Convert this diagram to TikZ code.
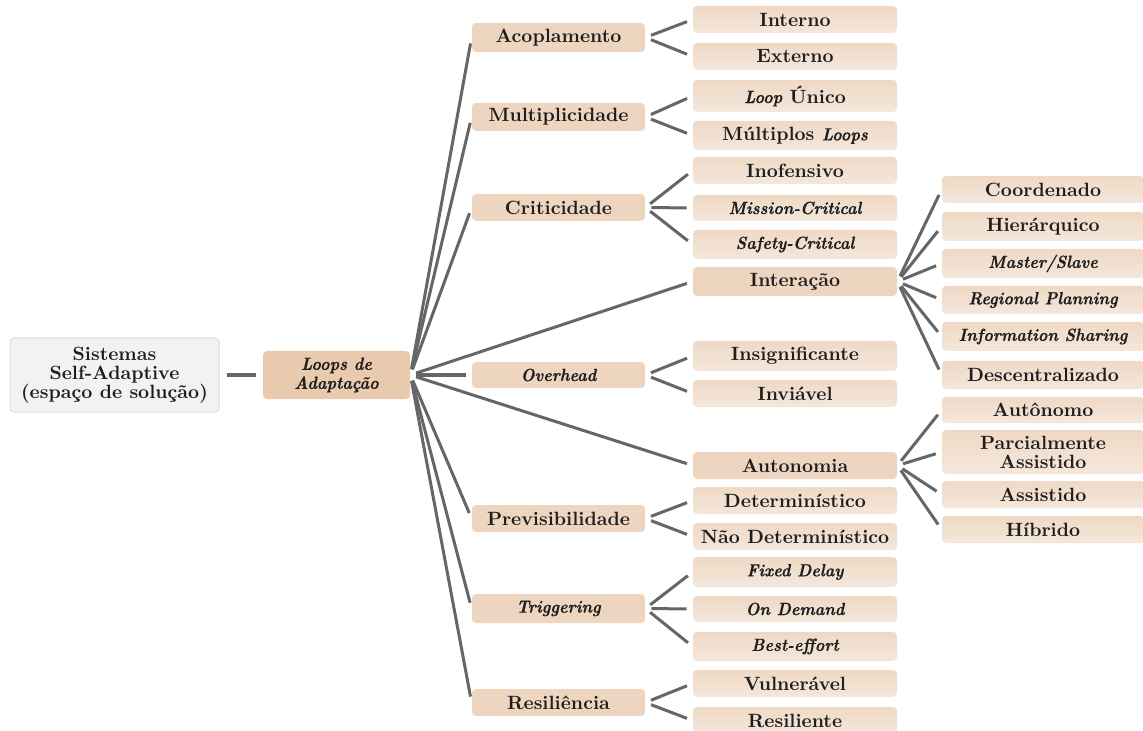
\documentclass[tikz,border=0pt]{standalone}
\usepackage{fontspec}
% narrow bold italic face for the foreign terms
\newfontface\narrowbi{lmroman10-bolditalic}[Extension=.otf, FakeStretch=0.92, FakeBold=0.4]
\definecolor{edgec}{HTML}{666666}
\definecolor{txt}{HTML}{1E1E1E}
\definecolor{rootfill}{HTML}{F1F2F1}
\definecolor{rootline}{HTML}{DCDDDC}
\definecolor{loopfill}{HTML}{E9CAAE}
\definecolor{catfill}{HTML}{EED5BF}
\definecolor{leaftop}{HTML}{EFD9C5}
\definecolor{leafbot}{HTML}{F4E7DB}
\newcommand\ital[1]{{\fontsize{8.8}{9.5}\narrowbi #1}}
\begin{document}
\begin{tikzpicture}[x=0.5pt,y=-0.5pt,
  base/.style={rounded corners=2pt, align=center, inner sep=0pt, text=txt,
    font=\fontsize{9.6}{9.5}\selectfont\bfseries},
  rootbox/.style={base, fill=rootfill, draw=rootline, line width=0.5pt,
    minimum width=104.5pt, minimum height=37pt},
  loopbox/.style={base, fill=loopfill, minimum width=73.5pt, minimum height=24pt},
  catbox/.style={base, fill=catfill, minimum width=86.5pt, minimum height=#1},
  catbox/.default=13.5pt,
  midbox/.style={base, fill=catfill, minimum width=102pt, minimum height=#1},
  midbox/.default=14pt,
  leafbox/.style={base, top color=leaftop, bottom color=leafbot,
    minimum width=102pt, minimum height=#1},
  leafbox/.default=13.5pt,
  farbox/.style={base, top color=leaftop, bottom color=leafbot,
    minimum width=101pt, minimum height=#1},
  farbox/.default=14pt,
  link/.style={draw=edgec, line width=1.5pt, shorten <=3pt, shorten >=3pt}
]
\useasboundingbox (0,0) rectangle (1143,731);
\clip (0,0) rectangle (1143,731);

% root and main hub
\node[rootbox] (root) at (114.5,375) {Sistemas\\Self-Adaptive\\(espaço de solução)};
\node[loopbox] (loops) at (336.5,375) {\ital{Loops de}\\\ital{Adaptação}};
\draw[link, shorten <=3.5pt, shorten >=3.5pt] (root.east) -- (loops.west);

% dimensions
\node[catbox=14.5pt] (acop) at (558.5,37.5) {Acoplamento};
\node[catbox=14pt] (mult) at (558.5,117) {Multiplicidade};
\node[catbox] (crit) at (558.5,207.5) {Criticidade};
\node[midbox=14.5pt] (inter) at (795,281.5) {Interação};
\node[catbox=13pt] (over) at (558.5,375) {\ital{Overhead}};
\node[midbox=13.5pt] (auto) at (795,465.5) {Autonomia};
\node[catbox] (prev) at (558.5,518.5) {Previsibilidade};
\node[catbox=14.5pt] (trig) at (558.5,608.5) {\ital{Triggering}};
\node[catbox] (resi) at (558.5,702.5) {Resiliência};

\foreach \c in {acop,mult,crit,inter,over,auto,prev,trig,resi}
  \draw[link] (loops.east) -- (\c.west);

% values of each dimension
\node[leafbox] (interno) at (795,19.5) {Interno};
\node[leafbox] (externo) at (795,56.5) {Externo};
\node[leafbox=16pt] (unico) at (795,96) {\ital{Loop} Único};
\node[leafbox=14.5pt] (multiplos) at (795,135.5) {Múltiplos \ital{Loops}};
\node[leafbox] (inof) at (795,170.5) {Inofensivo};
\node[leafbox=13pt] (mission) at (795,208) {\ital{Mission-Critical}};
\node[leafbox=14.5pt] (safety) at (795,244.5) {\ital{Safety-Critical}};
\node[leafbox=15pt] (insig) at (795,356) {Insignificante};
\node[leafbox] (inviav) at (795,393.5) {Inviável};
\node[leafbox] (determ) at (795,500.5) {Determinístico};
\node[leafbox] (naodet) at (795,536.5) {Não Determinístico};
\node[leafbox=15pt] (fixed) at (795,572) {\ital{Fixed Delay}};
\node[leafbox=13pt] (demand) at (795,609) {\ital{On Demand}};
\node[leafbox=14.5pt] (best) at (795,646.5) {\ital{Best-effort}};
\node[leafbox] (vuln) at (795,683.5) {Vulnerável};
\node[leafbox] (resil) at (795,720.5) {Resiliente};

\draw[link] (acop.east) -- (interno.west);
\draw[link] (acop.east) -- (externo.west);
\draw[link] (mult.east) -- (unico.west);
\draw[link] (mult.east) -- (multiplos.west);
\draw[link] (crit.east) -- (inof.west);
\draw[link] (crit.east) -- (mission.west);
\draw[link] (crit.east) -- (safety.west);
\draw[link] (over.east) -- (insig.west);
\draw[link] (over.east) -- (inviav.west);
\draw[link] (prev.east) -- (determ.west);
\draw[link] (prev.east) -- (naodet.west);
\draw[link] (trig.east) -- (fixed.west);
\draw[link] (trig.east) -- (demand.west);
\draw[link] (trig.east) -- (best.west);
\draw[link] (resi.east) -- (vuln.west);
\draw[link] (resi.east) -- (resil.west);

% interaction styles
\node[farbox=13.5pt] (coord) at (1043,189.5) {Coordenado};
\node[farbox=14.5pt] (hier) at (1043,226.5) {Hierárquico};
\node[farbox=14.5pt] (master) at (1043,263.5) {\ital{Master/Slave}};
\node[farbox] (regional) at (1043,300) {\ital{Regional Planning}};
\node[farbox=14.5pt] (info) at (1043,336.5) {\ital{Information Sharing}};
\node[farbox] (descent) at (1043,375) {Descentralizado};
\foreach \c in {coord,hier,master,regional,info,descent}
  \draw[link] (inter.east) -- (\c.west);

% autonomy levels
\node[farbox=13pt] (autonomo) at (1043,410) {Autônomo};
\node[farbox=22pt] (parcial) at (1043,452) {Parcialmente\\Assistido};
\node[farbox=13.5pt] (assist) at (1043,494.5) {Assistido};
\node[farbox=13.5pt] (hibrido) at (1043,529.5) {Híbrido};
\foreach \c in {autonomo,parcial,assist,hibrido}
  \draw[link] (auto.east) -- (\c.west);
\end{tikzpicture}
\end{document}
